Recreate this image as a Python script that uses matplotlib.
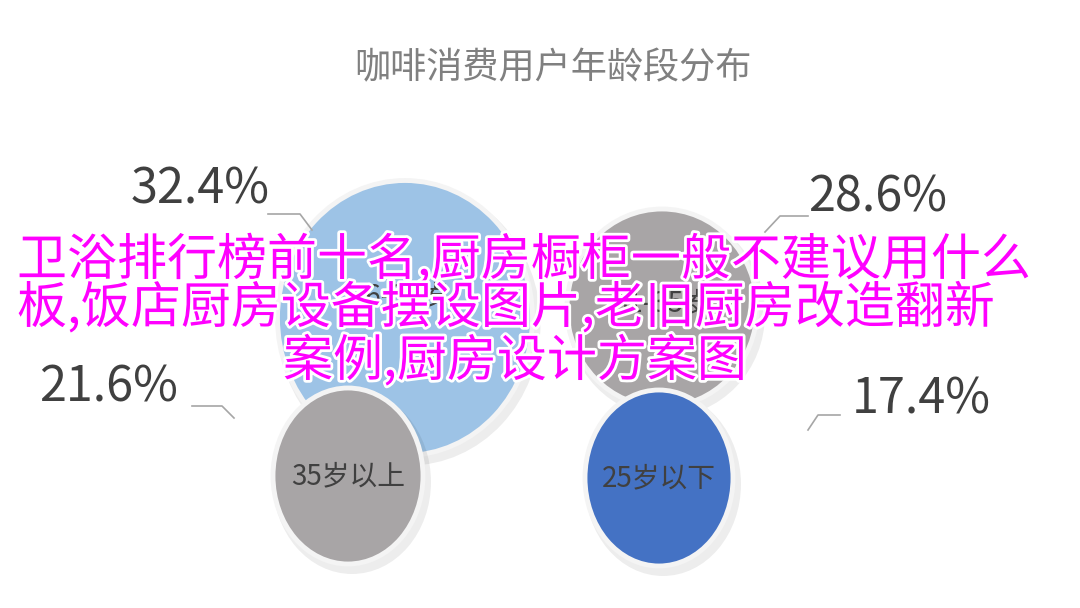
import matplotlib
matplotlib.use("Agg")
import matplotlib.pyplot as plt
from matplotlib.patches import Ellipse
import matplotlib.patheffects as pe

plt.rcParams['font.family'] = ['Noto Sans CJK SC', 'DejaVu Sans']

# 数据
title = "咖啡消费用户年龄段分布"
groups = ["26-30岁", "31-35岁", "35岁以上", "25岁以下"]
shares = [32.4, 28.6, 21.6, 17.4]
colors = ["#9dc3e6", "#a8a5a6", "#a8a5a6", "#4472c4"]
overlay_lines = [
    "卫浴排行榜前十名,厨房橱柜一般不建议用什么",
    "板,饭店厨房设备摆设图片,老旧厨房改造翻新",
    "案例,厨房设计方案图",
]

# 布局 (像素坐标)
centers = [(405, 318), (662, 308), (348, 476), (659, 478)]
sizes = [(255, 275), (190, 198), (150, 176), (148, 176)]
name_offset = [-22, -5, 0, 0]
label_pos = [(270, 190, 'right'), (808, 198, 'left'), (178, 388, 'right'), (852, 400, 'left')]
leaders = [
    [(268, 214), (300, 214), (312, 230)],
    [(808, 216), (780, 216), (765, 232)],
    [(192, 406), (222, 406), (234, 418)],
    [(840, 415), (818, 415), (808, 430)],
]
overlay_pos = [(17, 261), (17, 309), (283, 362)]

fig = plt.figure(figsize=(10.8, 6.08), dpi=100)
ax = fig.add_axes([0, 0, 1, 1])
ax.set_xlim(0, 1080)
ax.set_ylim(608, 0)
ax.axis('off')

ax.text(553, 68, title, ha='center', va='center', fontsize=26,
        color='#808080')

for i, (name, val, c) in enumerate(zip(groups, shares, colors)):
    cx, cy = centers[i]
    w, h = sizes[i]
    z = 2 + i * 2
    # 阴影
    ax.add_patch(Ellipse((cx + 4, cy + 6), w + 8, h + 8, facecolor='#000000',
                         alpha=0.07, edgecolor='none', zorder=z))
    ax.add_patch(Ellipse((cx, cy), w, h, facecolor=c, edgecolor='#f4f4f4',
                         linewidth=3.5, zorder=z + 0.5))
    ax.text(cx - 5 if i == 0 else cx, cy + name_offset[i], name, ha='center',
            va='center', fontsize=20, color='#404040', zorder=z + 1)

    lx, ly, ha = label_pos[i]
    ax.text(lx, ly, f"{val}%", ha=ha, va='center', fontsize=35,
            color='#404040', zorder=12)
    xs = [p[0] for p in leaders[i]]
    ys = [p[1] for p in leaders[i]]
    ax.plot(xs, ys, color='#a6a6a6', lw=1.2, zorder=12)

for t, (x, y) in zip(overlay_lines, overlay_pos):
    ax.text(x, y, t, ha='left', va='center', fontsize=36, color='#ff00ff',
            fontweight='medium', zorder=20,
            path_effects=[pe.withStroke(linewidth=4, foreground='white')])

fig.savefig("out.png", dpi=100)
